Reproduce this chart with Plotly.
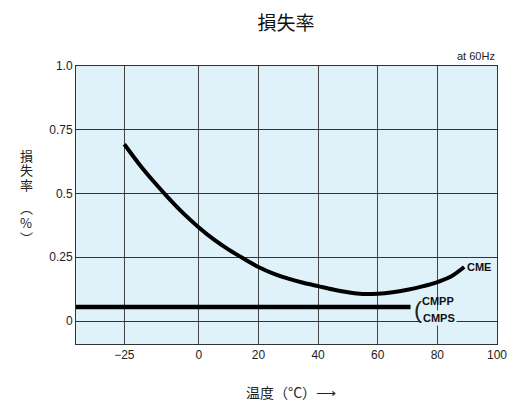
import plotly.graph_objects as go

# Data
cme_temp = [-25, -20, -15, -10, -5, 0, 5, 10, 15, 20, 25, 30, 35, 40, 45, 50, 55, 60, 65, 70, 75, 80, 85, 89]
cme_loss = [0.693, 0.615, 0.545, 0.48, 0.42, 0.367, 0.32, 0.28, 0.245, 0.212, 0.186, 0.166, 0.15, 0.137,
            0.124, 0.113, 0.106, 0.107, 0.113, 0.123, 0.136, 0.153, 0.178, 0.212]
cmp_temp = [-41.2, 71]
cmp_loss = [0.055, 0.055]
x_ticks = [-25, 0, 20, 40, 60, 80, 100]
x_labels = ["\u221225", "0", "20", "40", "60", "80", "100"]
y_ticks = [0, 0.25, 0.5, 0.75, 1.0]
y_labels = ["0", "0.25", "0.5", "0.75", "1.0"]

FONT = "Liberation Sans, Arial, Noto Sans CJK JP"
CJK = "Noto Sans CJK JP, Liberation Sans"
BG = "#dff2fa"
W, H = 509, 402

fig = go.Figure()
fig.add_trace(go.Scatter(x=cme_temp, y=cme_loss, mode="lines",
                         line=dict(color="black", width=4, shape="spline", smoothing=0.8),
                         showlegend=False, hoverinfo="skip"))
fig.add_trace(go.Scatter(x=cmp_temp, y=cmp_loss, mode="lines",
                         line=dict(color="black", width=4.5),
                         showlegend=False, hoverinfo="skip"))

fig.update_layout(
    width=W, height=H, autosize=False,
    margin=dict(l=76, r=12, t=66, b=58),
    paper_bgcolor="white", plot_bgcolor=BG,
    font=dict(family=FONT, size=12, color="#222"),
    title=dict(text="損失率", x=286 / W, xanchor="center", y=1 - 23 / H, yanchor="middle",
               font=dict(family=CJK, size=19, color="#111")),
    xaxis=dict(range=[-41.2, 100], tickvals=x_ticks, ticktext=x_labels, automargin=False,
               showgrid=True, gridcolor="#444", gridwidth=1,
               showline=True, linecolor="#333", linewidth=1, mirror=True,
               zeroline=False, ticks="", ticklen=0, ticklabeloverflow="allow",
               tickfont=dict(size=12, color="#222")),
    yaxis=dict(range=[-0.09, 1.0], tickvals=y_ticks, ticktext=y_labels, automargin=False,
               showgrid=True, gridcolor="#333", gridwidth=1,
               showline=True, linecolor="#333", linewidth=1, mirror=True,
               zeroline=False, ticks="", tickfont=dict(size=12, color="#222")),
)

ann = []
ann.append(dict(text="at 60Hz", xref="paper", yref="paper", x=1.0, y=1.0, xanchor="right",
                yanchor="bottom", yshift=2, showarrow=False, font=dict(size=11, color="#222")))
ann.append(dict(text="温度（°C）⟶", xref="paper", yref="paper", x=0.51, y=0, yanchor="top",
                yshift=-36, showarrow=False, font=dict(family=CJK, size=14, color="#222")))
# vertical y-axis title, one character per annotation
ytitle_chars = ["損", "失", "率", "︵", "%", "︶"]
ytitle_pix = [155, 169.5, 184, 207, 222, 237]
for ch, py in zip(ytitle_chars, ytitle_pix):
    ann.append(dict(text=ch, xref="paper", yref="paper", x=0, xshift=-58,
                    y=1 - (py - 66) / 278.0, yanchor="middle", showarrow=False,
                    font=dict(family=CJK, size=13, color="#222")))
ann.append(dict(text="<b>CME</b>", x=89, y=0.212, xanchor="left", xshift=1, yanchor="middle",
                showarrow=False, font=dict(size=11, color="#111")))
ann.append(dict(text="<b>CMPP</b>", x=74.6, y=0.079, xanchor="left", yanchor="middle",
                showarrow=False, borderpad=0, font=dict(size=11, color="#111")))
ann.append(dict(text="<b>CMPS</b>", x=74.6, y=0.011, xanchor="left", yanchor="middle",
                showarrow=False, bgcolor=BG, borderpad=1, font=dict(size=11, color="#111")))
ann.append(dict(text="(", x=73.4, y=0.045, xanchor="center", yanchor="middle",
                showarrow=False, font=dict(size=24, color="#222", family="Liberation Sans")))
fig.update_layout(annotations=ann)

# place the figure at the window's top-left corner, without scrollbars
post = ("document.documentElement.style.overflow='hidden';"
        "document.body.style.overflow='hidden';document.body.style.margin='0';")
fig.write_html("out.html", post_script=post, config={"displayModeBar": False})
